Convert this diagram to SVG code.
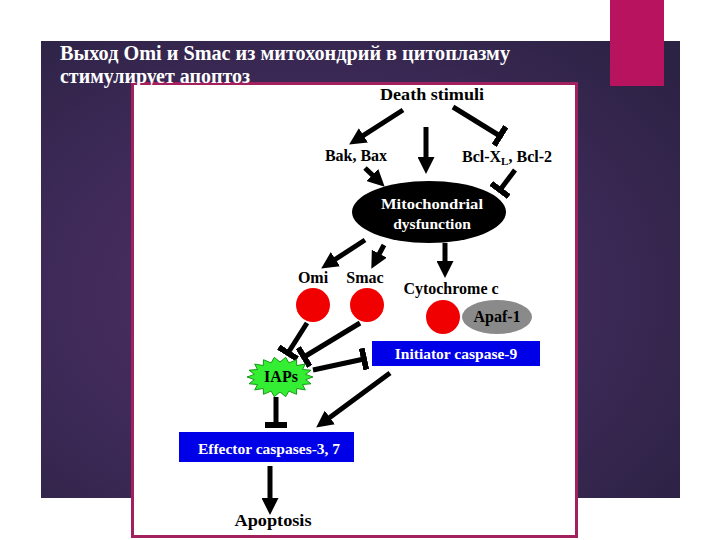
<svg xmlns="http://www.w3.org/2000/svg" width="720" height="540" viewBox="0 0 720 540">
<defs>
<radialGradient id="bg" cx="0.42" cy="0.55" r="0.75">
<stop offset="0" stop-color="#52306a"/>
<stop offset="0.55" stop-color="#3e2a58"/>
<stop offset="1" stop-color="#2c2244"/>
</radialGradient>
<marker id="ah" markerUnits="userSpaceOnUse" markerWidth="17" markerHeight="17" viewBox="0 0 17 17" refX="6" refY="8.5" orient="auto">
<path d="M0,0 L17,8.5 L0,17 z" fill="#000"/>
</marker>
<marker id="tb" markerUnits="userSpaceOnUse" markerWidth="6" markerHeight="22" viewBox="0 0 6 22" refX="3" refY="11" orient="auto">
<rect width="6" height="22" fill="#000"/>
</marker>
</defs>
<style>
.ttl{font-family:"Liberation Serif","DejaVu Serif","Times New Roman",serif;font-weight:bold;font-size:20px;fill:#fff}
.lbl{font-family:"Liberation Serif","DejaVu Serif","Times New Roman",serif;font-weight:bold;font-size:16px;fill:#000}
.wt{font-family:"Liberation Serif","DejaVu Serif","Times New Roman",serif;font-weight:bold;font-size:15.5px;fill:#fff}
.arr{stroke:#000;stroke-width:5;fill:none;marker-end:url(#ah)}
.inh{stroke:#000;stroke-width:5;fill:none;marker-end:url(#tb)}
.dot{fill:#f00000}
</style>
<rect width="720" height="540" fill="#fff"/>
<rect x="41" y="41" width="639" height="457" fill="url(#bg)"/>
<rect x="610" y="0" width="54" height="86" fill="#b8135f"/>
<rect x="132.5" y="83.5" width="444" height="453" fill="#fff" stroke="#a3205f" stroke-width="3"/>
<text class="ttl" x="60" y="60" textLength="450" lengthAdjust="spacingAndGlyphs">Выход Omi и Smac из митохондрий в цитоплазму</text>
<text class="ttl" x="60" y="83" textLength="190" lengthAdjust="spacingAndGlyphs">стимулирует апоптоз</text>

<g id="connectors">
<line class="arr" x1="403" y1="110" x2="358.4" y2="138.6"/>
<line class="arr" x1="426" y1="127" x2="426" y2="163"/>
<line class="inh" x1="453" y1="107" x2="500" y2="136"/>
<line class="arr" x1="365" y1="168" x2="376.7" y2="179.1"/>
<line class="inh" x1="515" y1="170" x2="500" y2="190"/>
<line class="arr" x1="365" y1="240" x2="330.4" y2="262.5"/>
<line class="arr" x1="384" y1="245" x2="376.5" y2="259"/>
<line class="arr" x1="445" y1="243" x2="445" y2="267"/>
<line class="inh" x1="307" y1="323" x2="288" y2="353"/>
<line class="inh" x1="360" y1="323" x2="304" y2="357"/>
<line class="inh" x1="313" y1="370" x2="364" y2="359"/>
<line class="arr" x1="390" y1="373" x2="325" y2="421"/>
<line class="inh" x1="276" y1="397" x2="276" y2="425"/>
<line class="arr" x1="270" y1="466" x2="270" y2="504"/>
</g>

<g id="death-stimuli"><text class="lbl" x="432" y="100" text-anchor="middle" font-size="17" textLength="104" lengthAdjust="spacingAndGlyphs">Death stimuli</text></g>
<g id="bak-bax"><text class="lbl" x="356" y="161" text-anchor="middle">Bak, Bax</text></g>
<g id="bcl"><text class="lbl" x="462" y="162">Bcl-X<tspan font-size="11" dy="3">L</tspan><tspan dy="-3">, Bcl-2</tspan></text></g>
<g id="mito">
<ellipse cx="429" cy="212" rx="77" ry="31" fill="#000"/>
<text class="wt" x="432" y="209" text-anchor="middle" font-size="16.5" textLength="102" lengthAdjust="spacingAndGlyphs">Mitochondrial</text>
<text class="wt" x="432" y="229" text-anchor="middle" font-size="16.5">dysfunction</text>
</g>
<g id="omi">
<text class="lbl" x="313" y="283" text-anchor="middle">Omi</text>
<circle class="dot" cx="313" cy="305" r="17"/>
</g>
<g id="smac">
<text class="lbl" x="365" y="283" text-anchor="middle">Smac</text>
<circle class="dot" cx="367" cy="305" r="17"/>
</g>
<g id="cytochrome-c">
<text class="lbl" x="451" y="294" text-anchor="middle">Cytochrome c</text>
<circle class="dot" cx="443" cy="317" r="17"/>
</g>
<g id="apaf-1">
<ellipse cx="497" cy="317" rx="35" ry="17" fill="#8a8a8a"/>
<text class="lbl" x="497" y="322" text-anchor="middle" font-size="15">Apaf-1</text>
</g>
<g id="caspase-9">
<rect x="372" y="341" width="168" height="25" fill="#0000e8"/>
<text class="wt" x="456" y="359" text-anchor="middle">Initiator caspase-9</text>
</g>
<g id="iaps">
<polygon points="313,377 305.6,379.6 311,383.8 302.5,384.5 305.3,389.9 296.7,388.5 296.5,394.3 288.9,391.1 285.7,396.7 280,392 274.3,396.7 271.1,391.1 263.5,394.3 263.3,388.5 254.7,389.9 257.5,384.5 249,383.8 254.4,379.6 247,377 254.4,374.4 249,370.2 257.5,369.5 254.7,364.1 263.3,365.5 263.5,359.7 271.1,362.9 274.3,357.3 280,362 285.7,357.3 288.9,362.9 296.5,359.7 296.7,365.5 305.3,364.1 302.5,369.5 311,370.2 305.6,374.4" fill="#33ee33" stroke="#169a16" stroke-width="1"/>
<text class="lbl" x="281" y="382" text-anchor="middle" font-size="15" fill="#063">IAPs</text>
</g>
<g id="effector">
<rect x="179" y="432" width="175" height="30" fill="#0000e8"/>
<text class="wt" x="269" y="454" text-anchor="middle">Effector caspases-3, 7</text>
</g>
<g id="apoptosis"><text class="lbl" x="273" y="526" text-anchor="middle" font-size="18" textLength="77" lengthAdjust="spacingAndGlyphs">Apoptosis</text></g>
</svg>
